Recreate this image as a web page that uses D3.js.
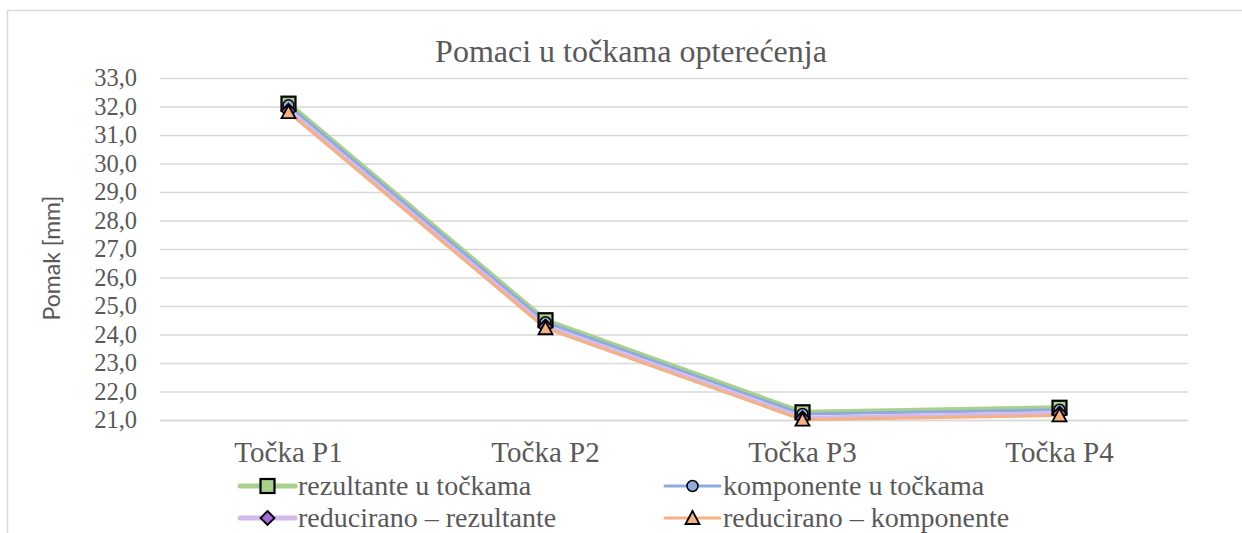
<!DOCTYPE html>
<html>
<head>
<meta charset="utf-8">
<script src="https://cdn.jsdelivr.net/npm/d3@7"></script>
<style>
  html, body { margin: 0; padding: 0; background: #fff; }
  svg { display: block; }
</style>
</head>
<body>
<svg id="chart" width="1242" height="533"></svg>
<script>
// Displacements at the four load points [mm]
const categories = ["Točka P1", "Točka P2", "Točka P3", "Točka P4"];
const rezultanteUTockama = [32.10, 24.50, 21.27, 21.43];
const komponenteUTockama = [32.04, 24.43, 21.21, 21.36];
const reduciranoRezultante = [31.85, 24.28, 21.06, 21.22];
const reduciranoKomponente = [31.80, 24.22, 21.01, 21.16];
const yTicks = [21, 22, 23, 24, 25, 26, 27, 28, 29, 30, 31, 32, 33];

const series = [
  { name: "rezultante u točkama", values: rezultanteUTockama, color: "#A9D18E", width: 5, marker: "square", fill: "#A9D18E" },
  { name: "komponente u točkama", values: komponenteUTockama, color: "#8FAADC", width: 3, marker: "circle", fill: "#8FAADC" },
  { name: "reducirano – rezultante", values: reduciranoRezultante, color: "#D5B8EC", width: 5, marker: "diamond", fill: "#A66BD3" },
  { name: "reducirano – komponente", values: reduciranoKomponente, color: "#F4B183", width: 3, marker: "triangle", fill: "#F4B183" }
];

const svg = d3.select("#chart");
const serif = "'Liberation Serif', 'Times New Roman', serif";
const textColor = "#595959";

// outer chart frame
svg.append("rect")
  .attr("x", 7.5).attr("y", 10.5)
  .attr("width", 1400).attr("height", 700)
  .attr("fill", "#fff").attr("stroke", "#d9d9d9").attr("stroke-width", 1.5);

const plot = { left: 160, right: 1188, top: 78, bottom: 420 };

const x = d3.scaleBand().domain(categories).range([plot.left, plot.right]);
const y = d3.scaleLinear().domain([21, 33]).range([plot.bottom, plot.top]);

// horizontal gridlines
const yAxis = d3.axisLeft(y).tickValues(yTicks)
  .tickSize(-(plot.right - plot.left))
  .tickPadding(23)
  .tickFormat(d => d3.format(".1f")(d).replace(".", ","));
const gy = svg.append("g").attr("transform", `translate(${plot.left},0)`).call(yAxis);
gy.select(".domain").remove();
gy.selectAll(".tick line").attr("stroke", "#d9d9d9").attr("stroke-width", 1.3);
gy.selectAll(".tick text")
  .attr("font-family", serif).attr("font-size", 24.5)
  .attr("fill", textColor);

// category axis
const xAxis = d3.axisBottom(x).tickSize(0).tickPadding(21);
const gx = svg.append("g").attr("transform", `translate(0,${plot.bottom})`).call(xAxis);
gx.select(".domain").attr("stroke", "#d9d9d9").attr("stroke-width", 1.3);
gx.selectAll(".tick text")
  .attr("font-family", serif).attr("font-size", 29)
  .attr("fill", textColor);

// title
svg.append("text")
  .attr("x", 631).attr("y", 62)
  .attr("text-anchor", "middle")
  .attr("font-family", serif).attr("font-size", 32)
  .attr("fill", textColor)
  .text("Pomaci u točkama opterećenja");

// y axis title
svg.append("text")
  .attr("transform", "translate(60,258) rotate(-90)")
  .attr("text-anchor", "middle")
  .attr("font-family", "Lato, 'Noto Sans', sans-serif").attr("font-size", 23)
  .attr("fill", textColor)
  .text("Pomak [mm]");

const cx = d => x(d) + x.bandwidth() / 2;

function drawMarker(g, type, fill) {
  if (type === "square") {
    g.append("rect").attr("x", -7).attr("y", -7).attr("width", 14).attr("height", 14)
      .attr("fill", fill).attr("stroke", "#000").attr("stroke-width", 2.2);
  } else if (type === "circle") {
    g.append("circle").attr("r", 5.5)
      .attr("fill", fill).attr("stroke", "#000").attr("stroke-width", 1.5);
  } else if (type === "diamond") {
    g.append("path").attr("d", "M0,-7L7,0L0,7L-7,0Z")
      .attr("fill", fill).attr("stroke", "#000").attr("stroke-width", 1.8);
  } else if (type === "triangle") {
    g.append("path").attr("d", "M0,-7L7,6L-7,6Z")
      .attr("fill", fill).attr("stroke", "#000").attr("stroke-width", 1.8);
  }
}

const line = d3.line().x((d, i) => cx(categories[i])).y(d => y(d));

// lines
series.forEach(s => {
  svg.append("path")
    .datum(s.values)
    .attr("d", line)
    .attr("fill", "none")
    .attr("stroke", s.color)
    .attr("stroke-width", s.width)
    .attr("stroke-linejoin", "round");
});

// markers on top
series.forEach(s => {
  s.values.forEach((v, i) => {
    const g = svg.append("g").attr("transform", `translate(${cx(categories[i])},${y(v)})`);
    drawMarker(g, s.marker, s.fill);
  });
});

// legend
const legendPos = [
  { x: 240, y: 486 }, { x: 665, y: 486 },
  { x: 240, y: 518 }, { x: 665, y: 518 }
];
series.forEach((s, i) => {
  const p = legendPos[i];
  const g = svg.append("g").attr("transform", `translate(${p.x},${p.y})`);
  g.append("line").attr("x1", 0).attr("x2", 55).attr("y1", 0).attr("y2", 0)
    .attr("stroke", s.color).attr("stroke-width", s.width).attr("stroke-linecap", "round");
  const m = g.append("g").attr("transform", "translate(27.5,0)");
  drawMarker(m, s.marker, s.fill);
  g.append("text").attr("x", 58).attr("y", 9)
    .attr("font-family", serif).attr("font-size", 28)
    .attr("fill", textColor)
    .text(s.name);
});
</script>
</body>
</html>
